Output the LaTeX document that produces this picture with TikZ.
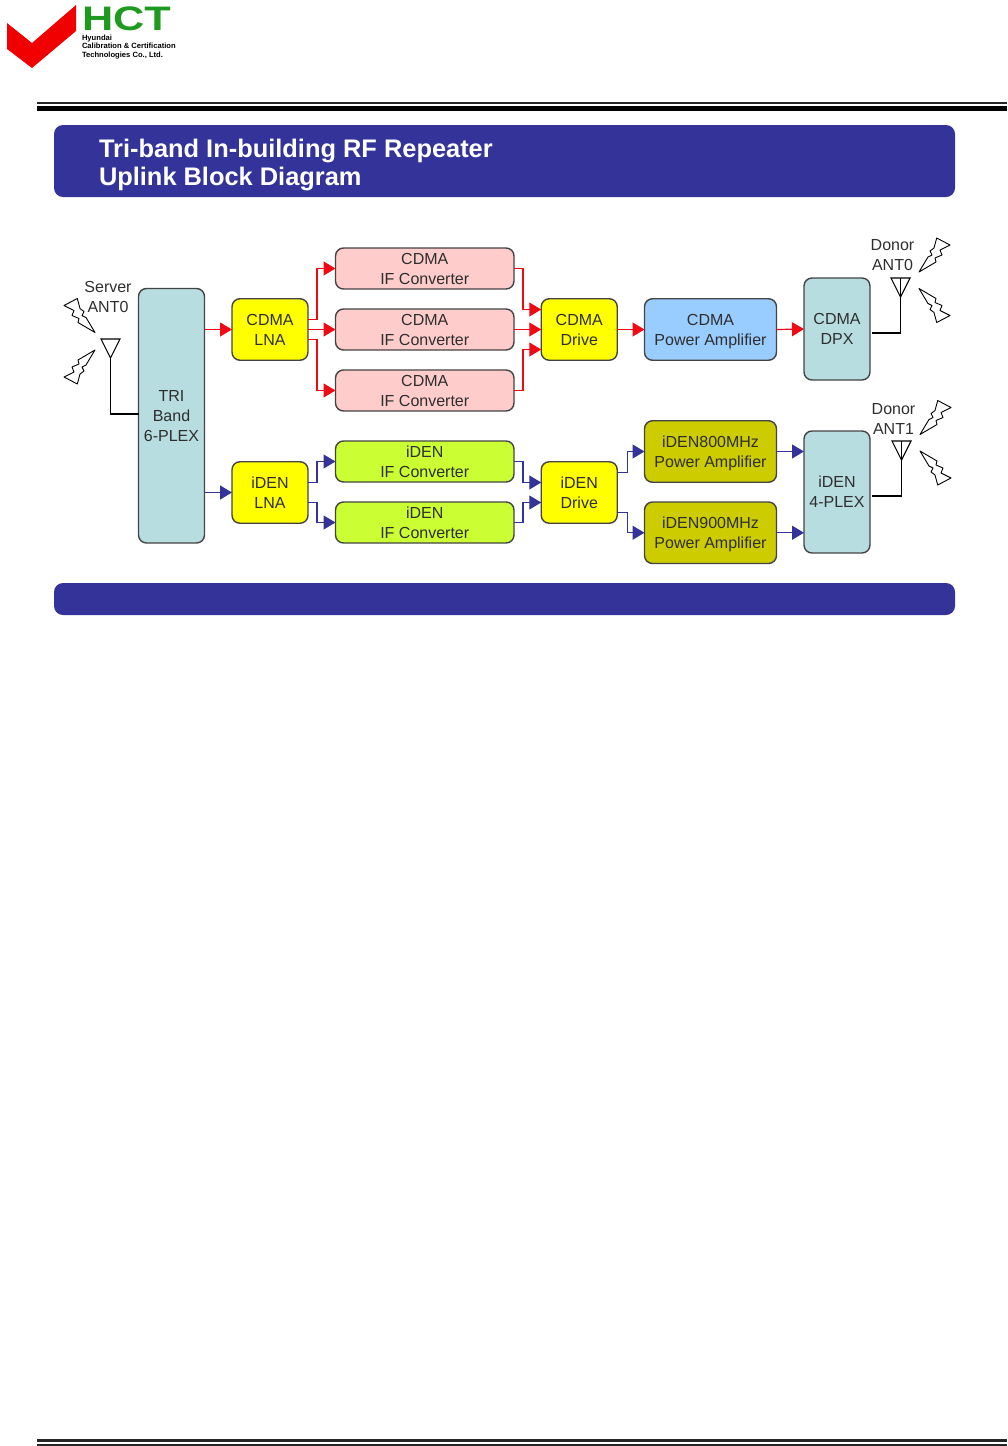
\documentclass[tikz,border=0pt]{standalone}
\usepackage{fontspec}
\setmainfont{Liberation Sans}
\usepackage{tikz}
\usetikzlibrary{arrows.meta}
\usepackage{xcolor}
\definecolor{BannerBlue}{HTML}{333399}
\definecolor{LineRed}{HTML}{F00A14}
\definecolor{LogoGreen}{HTML}{1E9A1E}
\definecolor{LogoRed}{HTML}{F00000}
\definecolor{BoxEdge}{HTML}{444444}
\definecolor{LabelGrey}{HTML}{2E2E2E}
\definecolor{BoxYellow}{HTML}{FFFF00}
\definecolor{BoxPink}{HTML}{FFCCCC}
\definecolor{BoxLime}{HTML}{CCFF33}
\definecolor{BoxOlive}{HTML}{CCCC00}
\definecolor{BoxSky}{HTML}{99CCFF}
\definecolor{BoxTeal}{HTML}{B8DDE0}

\begin{document}
\begin{tikzpicture}[
    x=1pt,
    y=-1pt,
    every node/.style={
        align=center,
        inner sep=0pt,
        outer sep=0pt,
        text=LabelGrey,
        font=\fontsize{16}{20}\selectfont
    },
    block/.style={
        rectangle,
        rounded corners=8pt,
        draw=BoxEdge,
        line width=1.4pt,
        text depth=-4pt
    },
    lna/.style={block,fill=BoxYellow,minimum width=76pt,minimum height=61.5pt},
    ifbox/.style={block,minimum width=178.5pt,minimum height=41pt},
    amp/.style={block,minimum width=132pt,minimum height=61.5pt},
    plex/.style={block,fill=BoxTeal,minimum width=66pt},
    banner/.style={fill=BannerBlue,rounded corners=9pt,minimum width=901pt},
    redline/.style={draw=LineRed,line width=1.2pt,-{Triangle[length=12pt,width=14pt]}},
    blueline/.style={draw=BannerBlue,line width=1.2pt,-{Triangle[length=12pt,width=14pt]}},
    feed/.style={draw=black,line width=1.1pt},
    bolt/.pic={
        \draw[black,line width=0.9pt,fill=white,line join=round]
            (0,0)--(9,-15)--(13,-17)--(11,-21)--(15,-24)--(17.7,-34)--(31,-27)
            --(21,-22)--(23,-17)--(16,-14)--(17,-10)--cycle;
    },
    antenna/.pic={
        \draw[black,line width=1.1pt] (-9.5,0)--(9.5,0)--(0,19)--cycle;
    }
]

\useasboundingbox (0,0) rectangle (1007,1446);

% logo
\fill[LogoRed] (7,23)--(32,43)--(76,5)--(76,31)--(32,68)--(7,49)--cycle;
\node[anchor=west,text=LogoGreen,xscale=1.27,font=\fontsize{34}{34}\bfseries\selectfont] (hct) at (82,18.5) {HCT};
\node[anchor=north west,align=left,text=black,font=\fontsize{7.6}{8.6}\bfseries\selectfont] (hyundai) at (82,34.5) {Hyundai\\Calibration \& Certification\\Technologies Co., Ltd.};

% rules
\fill[black!85] (37,102) rectangle (1007,104);
\fill[black] (37,106) rectangle (1007,111);
\fill[black!85] (37,1439) rectangle (1007,1441.5);
\fill[black!85] (37,1443.5) rectangle (1007,1445.5);

% banners
\node[banner,minimum height=72pt] (titlebar) at (504.5,161) {};
\node[banner,minimum height=32pt] (footbar) at (504.5,599) {};
\node[anchor=west,align=left,text=white,font=\fontsize{25.4}{28}\bfseries\selectfont] (title) at (99,165) {Tri-band In-building RF Repeater\\Uplink Block Diagram};

% blocks
\node[plex,minimum height=254.5pt] (triplex) at (171.5,415.75) {TRI\\Band\\6-PLEX};
\node[lna] (cdmalna) at (270,329.5) {CDMA\\LNA};
\node[lna] (idenlna) at (270,492.5) {iDEN\\LNA};

\node[ifbox,fill=BoxPink] (cdmaif1) at (424.75,268.5) {CDMA\\IF Converter};
\node[ifbox,fill=BoxPink] (cdmaif2) at (424.75,329.5) {CDMA\\IF Converter};
\node[ifbox,fill=BoxPink] (cdmaif3) at (424.75,390.5) {CDMA\\IF Converter};
\node[ifbox,fill=BoxLime] (idenif1) at (424.75,461.5) {iDEN\\IF Converter};
\node[ifbox,fill=BoxLime] (idenif2) at (424.75,522.5) {iDEN\\IF Converter};

\node[lna] (cdmadrive) at (579.25,329.5) {CDMA\\Drive};
\node[lna] (idendrive) at (579.25,492.5) {iDEN\\Drive};

\node[amp,fill=BoxSky] (cdmaamp) at (710.5,329.5) {CDMA\\Power Amplifier};
\node[amp,fill=BoxOlive] (iden800) at (710.5,451.5) {iDEN800MHz\\Power Amplifier};
\node[amp,fill=BoxOlive] (iden900) at (710.5,532.75) {iDEN900MHz\\Power Amplifier};

\node[plex,minimum height=102pt] (cdmadpx) at (837,329) {CDMA\\DPX};
\node[plex,minimum height=122pt] (idenplex) at (837,492) {iDEN\\4-PLEX};

% antenna labels
\node (serverlabel) at (108,296.5) {Server\\ANT0};
\node (donorlabel0) at (892.5,255.5) {Donor\\ANT0};
\node (donorlabel1) at (893.5,418.5) {Donor\\ANT1};

% red path
\draw[redline] (triplex.east |- cdmalna) -- (cdmalna.west);
\draw[redline] ([yshift=10pt]cdmalna.east) -- ++(9,0) |- (cdmaif1.west);
\draw[redline] (cdmalna.east) -- (cdmaif2.west);
\draw[redline] ([yshift=-10pt]cdmalna.east) -- ++(9,0) |- (cdmaif3.west);
\draw[redline] (cdmaif1.east) -- ++(9,0) |- ([yshift=20pt]cdmadrive.west);
\draw[redline] (cdmaif2.east) -- (cdmadrive.west);
\draw[redline] (cdmaif3.east) -- ++(9,0) |- ([yshift=-20pt]cdmadrive.west);
\draw[redline] (cdmadrive.east) -- (cdmaamp.west);
\draw[redline] (cdmaamp.east) -- (cdmadpx.west);

% blue path
\draw[blueline] (triplex.east |- idenlna) -- (idenlna.west);
\draw[blueline] ([yshift=10pt]idenlna.east) -- ++(9,0) |- (idenif1.west);
\draw[blueline] ([yshift=-10pt]idenlna.east) -- ++(9,0) |- (idenif2.west);
\draw[blueline] (idenif1.east) -- ++(9,0) |- ([yshift=10pt]idendrive.west);
\draw[blueline] (idenif2.east) -- ++(9,0) |- ([yshift=-10pt]idendrive.west);
\draw[blueline] ([yshift=20pt]idendrive.east) -- ++(10,0) |- (iden800.west);
\draw[blueline] ([yshift=-20pt]idendrive.east) -- ++(10,0) |- (iden900.west);
\draw[blueline] (iden800.east) -- (idenplex.west |- iden800);
\draw[blueline] (iden900.east) -- (idenplex.west |- iden900);

% antennas
\pic at (110.5,339) {antenna};
\pic at (900.5,278) {antenna};
\pic at (901.5,441) {antenna};
\coordinate (serverant) at (110.5,358);
\coordinate (donorant0) at (900.5,278);
\coordinate (donorant1) at (901.5,441);
\draw[feed] (serverant) |- ([yshift=1.75pt]triplex.west);
\draw[feed] (donorant0) |- ([xshift=2pt,yshift=-4pt]cdmadpx.east);
\draw[feed] (donorant1) |- ([xshift=2pt,yshift=-4pt]idenplex.east);

% bolts
\pic[xscale=-1] at (95,332.5) {bolt};
\pic[xscale=-1,yscale=-1] at (95,350) {bolt};
\pic at (919,272) {bolt};
\pic[yscale=-1] at (919,288.5) {bolt};
\pic at (920,434.5) {bolt};
\pic[yscale=-1] at (920,451) {bolt};

\end{tikzpicture}
\end{document}
